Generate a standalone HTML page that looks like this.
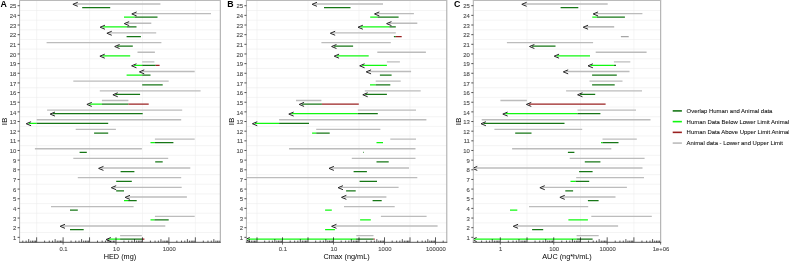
<!DOCTYPE html>
<html><head><meta charset="utf-8"><style>
html,body{margin:0;padding:0;background:#fff;}
body{width:789px;height:261px;overflow:hidden;}
svg{display:block;font-family:"Liberation Sans", sans-serif;will-change:transform;}
</style></head><body>
<svg width="789" height="261" viewBox="0 0 789 261">
<rect width="789" height="261" fill="#fff"/>
<clipPath id="clipA"><rect x="19.6" y="0.0" width="200.70000000000002" height="242.3"/></clipPath>
<line x1="19.6" x2="220.3" y1="232.52" y2="232.52" stroke="#ececec" stroke-width="0.6"/>
<line x1="19.6" x2="220.3" y1="222.87" y2="222.87" stroke="#ececec" stroke-width="0.6"/>
<line x1="19.6" x2="220.3" y1="213.22" y2="213.22" stroke="#ececec" stroke-width="0.6"/>
<line x1="19.6" x2="220.3" y1="203.57" y2="203.57" stroke="#ececec" stroke-width="0.6"/>
<line x1="19.6" x2="220.3" y1="193.92" y2="193.92" stroke="#ececec" stroke-width="0.6"/>
<line x1="19.6" x2="220.3" y1="184.26" y2="184.26" stroke="#ececec" stroke-width="0.6"/>
<line x1="19.6" x2="220.3" y1="174.61" y2="174.61" stroke="#ececec" stroke-width="0.6"/>
<line x1="19.6" x2="220.3" y1="164.96" y2="164.96" stroke="#ececec" stroke-width="0.6"/>
<line x1="19.6" x2="220.3" y1="155.31" y2="155.31" stroke="#ececec" stroke-width="0.6"/>
<line x1="19.6" x2="220.3" y1="145.66" y2="145.66" stroke="#ececec" stroke-width="0.6"/>
<line x1="19.6" x2="220.3" y1="136.00" y2="136.00" stroke="#ececec" stroke-width="0.6"/>
<line x1="19.6" x2="220.3" y1="126.35" y2="126.35" stroke="#ececec" stroke-width="0.6"/>
<line x1="19.6" x2="220.3" y1="116.70" y2="116.70" stroke="#ececec" stroke-width="0.6"/>
<line x1="19.6" x2="220.3" y1="107.05" y2="107.05" stroke="#ececec" stroke-width="0.6"/>
<line x1="19.6" x2="220.3" y1="97.40" y2="97.40" stroke="#ececec" stroke-width="0.6"/>
<line x1="19.6" x2="220.3" y1="87.74" y2="87.74" stroke="#ececec" stroke-width="0.6"/>
<line x1="19.6" x2="220.3" y1="78.09" y2="78.09" stroke="#ececec" stroke-width="0.6"/>
<line x1="19.6" x2="220.3" y1="68.44" y2="68.44" stroke="#ececec" stroke-width="0.6"/>
<line x1="19.6" x2="220.3" y1="58.79" y2="58.79" stroke="#ececec" stroke-width="0.6"/>
<line x1="19.6" x2="220.3" y1="49.14" y2="49.14" stroke="#ececec" stroke-width="0.6"/>
<line x1="19.6" x2="220.3" y1="39.48" y2="39.48" stroke="#ececec" stroke-width="0.6"/>
<line x1="19.6" x2="220.3" y1="29.83" y2="29.83" stroke="#ececec" stroke-width="0.6"/>
<line x1="19.6" x2="220.3" y1="20.18" y2="20.18" stroke="#ececec" stroke-width="0.6"/>
<line x1="19.6" x2="220.3" y1="10.53" y2="10.53" stroke="#ececec" stroke-width="0.6"/>
<line x1="36.65" x2="36.65" y1="0.5" y2="242.3" stroke="#ededed" stroke-width="0.55"/>
<line x1="89.55" x2="89.55" y1="0.5" y2="242.3" stroke="#ededed" stroke-width="0.55"/>
<line x1="142.45" x2="142.45" y1="0.5" y2="242.3" stroke="#ededed" stroke-width="0.55"/>
<line x1="195.35" x2="195.35" y1="0.5" y2="242.3" stroke="#ededed" stroke-width="0.55"/>
<g clip-path="url(#clipA)">
<line x1="75.40" x2="160.4" y1="3.95" y2="3.95" stroke="#bcbcbc" stroke-width="1.35"/>
<line x1="82.20" x2="110.2" y1="7.55" y2="7.55" stroke="#167616" stroke-width="1.25"/>
<line x1="134.30" x2="211.0" y1="13.60" y2="13.60" stroke="#bcbcbc" stroke-width="1.35"/>
<line x1="124.00" x2="134.6" y1="17.20" y2="17.20" stroke="#10f810" stroke-width="1.25"/>
<line x1="134.60" x2="157.5" y1="17.20" y2="17.20" stroke="#167616" stroke-width="1.25"/>
<line x1="126.80" x2="151.3" y1="23.26" y2="23.26" stroke="#bcbcbc" stroke-width="1.35"/>
<line x1="102.60" x2="126.8" y1="26.86" y2="26.86" stroke="#10f810" stroke-width="1.25"/>
<line x1="126.80" x2="136.5" y1="26.86" y2="26.86" stroke="#167616" stroke-width="1.25"/>
<line x1="109.40" x2="156.2" y1="32.91" y2="32.91" stroke="#bcbcbc" stroke-width="1.35"/>
<line x1="126.60" x2="140.9" y1="36.51" y2="36.51" stroke="#167616" stroke-width="1.25"/>
<line x1="46.60" x2="161.4" y1="42.56" y2="42.56" stroke="#bcbcbc" stroke-width="1.35"/>
<line x1="117.20" x2="132.8" y1="46.16" y2="46.16" stroke="#167616" stroke-width="1.25"/>
<line x1="137.50" x2="154.9" y1="52.21" y2="52.21" stroke="#bcbcbc" stroke-width="1.35"/>
<line x1="102.40" x2="130.2" y1="55.81" y2="55.81" stroke="#10f810" stroke-width="1.25"/>
<line x1="142.20" x2="154.4" y1="61.86" y2="61.86" stroke="#bcbcbc" stroke-width="1.35"/>
<line x1="134.10" x2="142.2" y1="65.46" y2="65.46" stroke="#10f810" stroke-width="1.25"/>
<line x1="142.20" x2="155.7" y1="65.46" y2="65.46" stroke="#167616" stroke-width="1.25"/>
<line x1="155.70" x2="159.6" y1="65.46" y2="65.46" stroke="#9a2020" stroke-width="1.25"/>
<line x1="141.90" x2="194.7" y1="71.52" y2="71.52" stroke="#bcbcbc" stroke-width="1.35"/>
<line x1="126.60" x2="142.2" y1="75.12" y2="75.12" stroke="#10f810" stroke-width="1.25"/>
<line x1="142.20" x2="150.5" y1="75.12" y2="75.12" stroke="#167616" stroke-width="1.25"/>
<line x1="73.30" x2="168.7" y1="81.17" y2="81.17" stroke="#bcbcbc" stroke-width="1.35"/>
<line x1="142.20" x2="162.7" y1="84.77" y2="84.77" stroke="#167616" stroke-width="1.25"/>
<line x1="99.80" x2="200.6" y1="90.82" y2="90.82" stroke="#bcbcbc" stroke-width="1.35"/>
<line x1="115.40" x2="140.1" y1="94.42" y2="94.42" stroke="#167616" stroke-width="1.25"/>
<line x1="101.90" x2="128.4" y1="100.47" y2="100.47" stroke="#bcbcbc" stroke-width="1.35"/>
<line x1="89.40" x2="101.9" y1="104.07" y2="104.07" stroke="#10f810" stroke-width="1.25"/>
<line x1="101.90" x2="128.4" y1="104.07" y2="104.07" stroke="#167616" stroke-width="1.25"/>
<line x1="128.40" x2="148.7" y1="104.07" y2="104.07" stroke="#9a2020" stroke-width="1.25"/>
<line x1="47.10" x2="182.2" y1="110.12" y2="110.12" stroke="#bcbcbc" stroke-width="1.35"/>
<line x1="52.60" x2="142.7" y1="113.72" y2="113.72" stroke="#167616" stroke-width="1.25"/>
<line x1="36.70" x2="181.2" y1="119.78" y2="119.78" stroke="#bcbcbc" stroke-width="1.35"/>
<line x1="28.70" x2="36.7" y1="123.38" y2="123.38" stroke="#10f810" stroke-width="1.25"/>
<line x1="36.70" x2="108.2" y1="123.38" y2="123.38" stroke="#167616" stroke-width="1.25"/>
<line x1="75.70" x2="115.9" y1="129.43" y2="129.43" stroke="#bcbcbc" stroke-width="1.35"/>
<line x1="94.10" x2="108.2" y1="133.03" y2="133.03" stroke="#167616" stroke-width="1.25"/>
<line x1="154.90" x2="194.7" y1="139.08" y2="139.08" stroke="#bcbcbc" stroke-width="1.35"/>
<line x1="150.50" x2="154.9" y1="142.68" y2="142.68" stroke="#10f810" stroke-width="1.25"/>
<line x1="154.90" x2="173.4" y1="142.68" y2="142.68" stroke="#167616" stroke-width="1.25"/>
<line x1="34.90" x2="141.9" y1="148.73" y2="148.73" stroke="#bcbcbc" stroke-width="1.35"/>
<line x1="79.60" x2="86.8" y1="152.33" y2="152.33" stroke="#167616" stroke-width="1.25"/>
<line x1="73.30" x2="168.2" y1="158.38" y2="158.38" stroke="#bcbcbc" stroke-width="1.35"/>
<line x1="155.20" x2="162.7" y1="161.98" y2="161.98" stroke="#167616" stroke-width="1.25"/>
<line x1="101.10" x2="190.3" y1="168.04" y2="168.04" stroke="#bcbcbc" stroke-width="1.35"/>
<line x1="120.60" x2="134.4" y1="171.64" y2="171.64" stroke="#167616" stroke-width="1.25"/>
<line x1="77.80" x2="181.2" y1="177.69" y2="177.69" stroke="#bcbcbc" stroke-width="1.35"/>
<line x1="116.20" x2="131.8" y1="181.29" y2="181.29" stroke="#167616" stroke-width="1.25"/>
<line x1="113.80" x2="181.7" y1="187.34" y2="187.34" stroke="#bcbcbc" stroke-width="1.35"/>
<line x1="116.20" x2="124.0" y1="190.94" y2="190.94" stroke="#167616" stroke-width="1.25"/>
<line x1="127.60" x2="186.9" y1="196.99" y2="196.99" stroke="#bcbcbc" stroke-width="1.35"/>
<line x1="124.00" x2="128.1" y1="200.59" y2="200.59" stroke="#10f810" stroke-width="1.25"/>
<line x1="128.10" x2="136.7" y1="200.59" y2="200.59" stroke="#167616" stroke-width="1.25"/>
<line x1="51.00" x2="133.6" y1="206.64" y2="206.64" stroke="#bcbcbc" stroke-width="1.35"/>
<line x1="70.00" x2="77.8" y1="210.24" y2="210.24" stroke="#167616" stroke-width="1.25"/>
<line x1="154.90" x2="194.7" y1="216.30" y2="216.30" stroke="#bcbcbc" stroke-width="1.35"/>
<line x1="150.50" x2="154.4" y1="219.90" y2="219.90" stroke="#10f810" stroke-width="1.25"/>
<line x1="154.40" x2="168.7" y1="219.90" y2="219.90" stroke="#167616" stroke-width="1.25"/>
<line x1="62.60" x2="165.3" y1="225.95" y2="225.95" stroke="#bcbcbc" stroke-width="1.35"/>
<line x1="70.00" x2="83.7" y1="229.55" y2="229.55" stroke="#167616" stroke-width="1.25"/>
<line x1="120.10" x2="141.8" y1="235.60" y2="235.60" stroke="#bcbcbc" stroke-width="1.35"/>
<line x1="108.50" x2="120.1" y1="239.20" y2="239.20" stroke="#10f810" stroke-width="1.25"/>
<line x1="120.10" x2="142.1" y1="239.20" y2="239.20" stroke="#167616" stroke-width="1.25"/>
<line x1="142.10" x2="144.4" y1="239.20" y2="239.20" stroke="#9a2020" stroke-width="1.25"/>
<polyline points="77.40,2.45 72.90,4.30 77.40,6.15" fill="none" stroke="#262626" stroke-width="1.0" stroke-linejoin="round" stroke-linecap="round"/>
<polyline points="136.30,12.10 131.80,13.95 136.30,15.80" fill="none" stroke="#262626" stroke-width="1.0" stroke-linejoin="round" stroke-linecap="round"/>
<polyline points="128.80,21.76 124.30,23.61 128.80,25.46" fill="none" stroke="#262626" stroke-width="1.0" stroke-linejoin="round" stroke-linecap="round"/>
<polyline points="104.60,25.36 100.10,27.21 104.60,29.06" fill="none" stroke="#262626" stroke-width="1.0" stroke-linejoin="round" stroke-linecap="round"/>
<polyline points="111.40,31.41 106.90,33.26 111.40,35.11" fill="none" stroke="#262626" stroke-width="1.0" stroke-linejoin="round" stroke-linecap="round"/>
<polyline points="119.20,44.66 114.70,46.51 119.20,48.36" fill="none" stroke="#262626" stroke-width="1.0" stroke-linejoin="round" stroke-linecap="round"/>
<polyline points="104.40,54.31 99.90,56.16 104.40,58.01" fill="none" stroke="#262626" stroke-width="1.0" stroke-linejoin="round" stroke-linecap="round"/>
<polyline points="136.10,63.96 131.60,65.81 136.10,67.66" fill="none" stroke="#262626" stroke-width="1.0" stroke-linejoin="round" stroke-linecap="round"/>
<polyline points="143.90,70.02 139.40,71.87 143.90,73.72" fill="none" stroke="#262626" stroke-width="1.0" stroke-linejoin="round" stroke-linecap="round"/>
<polyline points="117.40,92.92 112.90,94.77 117.40,96.62" fill="none" stroke="#262626" stroke-width="1.0" stroke-linejoin="round" stroke-linecap="round"/>
<polyline points="91.40,102.57 86.90,104.42 91.40,106.27" fill="none" stroke="#262626" stroke-width="1.0" stroke-linejoin="round" stroke-linecap="round"/>
<polyline points="54.60,112.22 50.10,114.07 54.60,115.92" fill="none" stroke="#262626" stroke-width="1.0" stroke-linejoin="round" stroke-linecap="round"/>
<polyline points="30.70,121.88 26.20,123.73 30.70,125.58" fill="none" stroke="#262626" stroke-width="1.0" stroke-linejoin="round" stroke-linecap="round"/>
<polyline points="103.10,166.54 98.60,168.39 103.10,170.24" fill="none" stroke="#262626" stroke-width="1.0" stroke-linejoin="round" stroke-linecap="round"/>
<polyline points="115.80,185.84 111.30,187.69 115.80,189.54" fill="none" stroke="#262626" stroke-width="1.0" stroke-linejoin="round" stroke-linecap="round"/>
<polyline points="129.60,195.49 125.10,197.34 129.60,199.19" fill="none" stroke="#262626" stroke-width="1.0" stroke-linejoin="round" stroke-linecap="round"/>
<polyline points="64.60,224.45 60.10,226.30 64.60,228.15" fill="none" stroke="#262626" stroke-width="1.0" stroke-linejoin="round" stroke-linecap="round"/>
<polyline points="110.50,237.70 106.00,239.55 110.50,241.40" fill="none" stroke="#262626" stroke-width="1.0" stroke-linejoin="round" stroke-linecap="round"/>
</g>
<line x1="22.82" x2="22.82" y1="240.60" y2="242.3" stroke="#000" stroke-width="0.65"/>
<line x1="26.12" x2="26.12" y1="240.60" y2="242.3" stroke="#000" stroke-width="0.65"/>
<line x1="28.69" x2="28.69" y1="239.10" y2="242.3" stroke="#000" stroke-width="0.65"/>
<line x1="30.78" x2="30.78" y1="240.60" y2="242.3" stroke="#000" stroke-width="0.65"/>
<line x1="32.55" x2="32.55" y1="240.60" y2="242.3" stroke="#000" stroke-width="0.65"/>
<line x1="34.09" x2="34.09" y1="240.60" y2="242.3" stroke="#000" stroke-width="0.65"/>
<line x1="35.44" x2="35.44" y1="240.60" y2="242.3" stroke="#000" stroke-width="0.65"/>
<line x1="36.65" x2="36.65" y1="237.30" y2="242.3" stroke="#000" stroke-width="0.65"/>
<line x1="44.61" x2="44.61" y1="240.60" y2="242.3" stroke="#000" stroke-width="0.65"/>
<line x1="49.27" x2="49.27" y1="240.60" y2="242.3" stroke="#000" stroke-width="0.65"/>
<line x1="52.57" x2="52.57" y1="240.60" y2="242.3" stroke="#000" stroke-width="0.65"/>
<line x1="55.14" x2="55.14" y1="239.10" y2="242.3" stroke="#000" stroke-width="0.65"/>
<line x1="57.23" x2="57.23" y1="240.60" y2="242.3" stroke="#000" stroke-width="0.65"/>
<line x1="59.00" x2="59.00" y1="240.60" y2="242.3" stroke="#000" stroke-width="0.65"/>
<line x1="60.54" x2="60.54" y1="240.60" y2="242.3" stroke="#000" stroke-width="0.65"/>
<line x1="61.89" x2="61.89" y1="240.60" y2="242.3" stroke="#000" stroke-width="0.65"/>
<line x1="63.10" x2="63.10" y1="237.30" y2="242.3" stroke="#000" stroke-width="0.65"/>
<line x1="71.06" x2="71.06" y1="240.60" y2="242.3" stroke="#000" stroke-width="0.65"/>
<line x1="75.72" x2="75.72" y1="240.60" y2="242.3" stroke="#000" stroke-width="0.65"/>
<line x1="79.02" x2="79.02" y1="240.60" y2="242.3" stroke="#000" stroke-width="0.65"/>
<line x1="81.59" x2="81.59" y1="239.10" y2="242.3" stroke="#000" stroke-width="0.65"/>
<line x1="83.68" x2="83.68" y1="240.60" y2="242.3" stroke="#000" stroke-width="0.65"/>
<line x1="85.45" x2="85.45" y1="240.60" y2="242.3" stroke="#000" stroke-width="0.65"/>
<line x1="86.99" x2="86.99" y1="240.60" y2="242.3" stroke="#000" stroke-width="0.65"/>
<line x1="88.34" x2="88.34" y1="240.60" y2="242.3" stroke="#000" stroke-width="0.65"/>
<line x1="89.55" x2="89.55" y1="237.30" y2="242.3" stroke="#000" stroke-width="0.65"/>
<line x1="97.51" x2="97.51" y1="240.60" y2="242.3" stroke="#000" stroke-width="0.65"/>
<line x1="102.17" x2="102.17" y1="240.60" y2="242.3" stroke="#000" stroke-width="0.65"/>
<line x1="105.47" x2="105.47" y1="240.60" y2="242.3" stroke="#000" stroke-width="0.65"/>
<line x1="108.04" x2="108.04" y1="239.10" y2="242.3" stroke="#000" stroke-width="0.65"/>
<line x1="110.13" x2="110.13" y1="240.60" y2="242.3" stroke="#000" stroke-width="0.65"/>
<line x1="111.90" x2="111.90" y1="240.60" y2="242.3" stroke="#000" stroke-width="0.65"/>
<line x1="113.44" x2="113.44" y1="240.60" y2="242.3" stroke="#000" stroke-width="0.65"/>
<line x1="114.79" x2="114.79" y1="240.60" y2="242.3" stroke="#000" stroke-width="0.65"/>
<line x1="116.00" x2="116.00" y1="237.30" y2="242.3" stroke="#000" stroke-width="0.65"/>
<line x1="123.96" x2="123.96" y1="240.60" y2="242.3" stroke="#000" stroke-width="0.65"/>
<line x1="128.62" x2="128.62" y1="240.60" y2="242.3" stroke="#000" stroke-width="0.65"/>
<line x1="131.92" x2="131.92" y1="240.60" y2="242.3" stroke="#000" stroke-width="0.65"/>
<line x1="134.49" x2="134.49" y1="239.10" y2="242.3" stroke="#000" stroke-width="0.65"/>
<line x1="136.58" x2="136.58" y1="240.60" y2="242.3" stroke="#000" stroke-width="0.65"/>
<line x1="138.35" x2="138.35" y1="240.60" y2="242.3" stroke="#000" stroke-width="0.65"/>
<line x1="139.89" x2="139.89" y1="240.60" y2="242.3" stroke="#000" stroke-width="0.65"/>
<line x1="141.24" x2="141.24" y1="240.60" y2="242.3" stroke="#000" stroke-width="0.65"/>
<line x1="142.45" x2="142.45" y1="237.30" y2="242.3" stroke="#000" stroke-width="0.65"/>
<line x1="150.41" x2="150.41" y1="240.60" y2="242.3" stroke="#000" stroke-width="0.65"/>
<line x1="155.07" x2="155.07" y1="240.60" y2="242.3" stroke="#000" stroke-width="0.65"/>
<line x1="158.37" x2="158.37" y1="240.60" y2="242.3" stroke="#000" stroke-width="0.65"/>
<line x1="160.94" x2="160.94" y1="239.10" y2="242.3" stroke="#000" stroke-width="0.65"/>
<line x1="163.03" x2="163.03" y1="240.60" y2="242.3" stroke="#000" stroke-width="0.65"/>
<line x1="164.80" x2="164.80" y1="240.60" y2="242.3" stroke="#000" stroke-width="0.65"/>
<line x1="166.34" x2="166.34" y1="240.60" y2="242.3" stroke="#000" stroke-width="0.65"/>
<line x1="167.69" x2="167.69" y1="240.60" y2="242.3" stroke="#000" stroke-width="0.65"/>
<line x1="168.90" x2="168.90" y1="237.30" y2="242.3" stroke="#000" stroke-width="0.65"/>
<line x1="176.86" x2="176.86" y1="240.60" y2="242.3" stroke="#000" stroke-width="0.65"/>
<line x1="181.52" x2="181.52" y1="240.60" y2="242.3" stroke="#000" stroke-width="0.65"/>
<line x1="184.82" x2="184.82" y1="240.60" y2="242.3" stroke="#000" stroke-width="0.65"/>
<line x1="187.39" x2="187.39" y1="239.10" y2="242.3" stroke="#000" stroke-width="0.65"/>
<line x1="189.48" x2="189.48" y1="240.60" y2="242.3" stroke="#000" stroke-width="0.65"/>
<line x1="191.25" x2="191.25" y1="240.60" y2="242.3" stroke="#000" stroke-width="0.65"/>
<line x1="192.79" x2="192.79" y1="240.60" y2="242.3" stroke="#000" stroke-width="0.65"/>
<line x1="194.14" x2="194.14" y1="240.60" y2="242.3" stroke="#000" stroke-width="0.65"/>
<line x1="195.35" x2="195.35" y1="237.30" y2="242.3" stroke="#000" stroke-width="0.65"/>
<line x1="203.31" x2="203.31" y1="240.60" y2="242.3" stroke="#000" stroke-width="0.65"/>
<line x1="207.97" x2="207.97" y1="240.60" y2="242.3" stroke="#000" stroke-width="0.65"/>
<line x1="211.27" x2="211.27" y1="240.60" y2="242.3" stroke="#000" stroke-width="0.65"/>
<line x1="213.84" x2="213.84" y1="239.10" y2="242.3" stroke="#000" stroke-width="0.65"/>
<line x1="215.93" x2="215.93" y1="240.60" y2="242.3" stroke="#000" stroke-width="0.65"/>
<line x1="217.70" x2="217.70" y1="240.60" y2="242.3" stroke="#000" stroke-width="0.65"/>
<line x1="219.24" x2="219.24" y1="240.60" y2="242.3" stroke="#000" stroke-width="0.65"/>
<line x1="19.6" x2="19.6" y1="0.5" y2="242.3" stroke="#b0b0b0" stroke-width="1"/>
<line x1="220.3" x2="220.3" y1="0.5" y2="242.3" stroke="#a6a6a6" stroke-width="1"/>
<line x1="19.1" x2="220.8" y1="0.5" y2="0.5" stroke="#bababa" stroke-width="1"/>
<line x1="19.1" x2="220.8" y1="242.3" y2="242.3" stroke="#262626" stroke-width="0.8"/>
<line x1="17.60" x2="19.6" y1="237.35" y2="237.35" stroke="#333" stroke-width="0.85"/>
<text x="16.20" y="240.00" text-anchor="end" font-size="5.9" fill="#4a4a4a" stroke="#4a4a4a" stroke-width="0.1">1</text>
<line x1="17.60" x2="19.6" y1="227.70" y2="227.70" stroke="#333" stroke-width="0.85"/>
<text x="16.20" y="230.35" text-anchor="end" font-size="5.9" fill="#4a4a4a" stroke="#4a4a4a" stroke-width="0.1">2</text>
<line x1="17.60" x2="19.6" y1="218.05" y2="218.05" stroke="#333" stroke-width="0.85"/>
<text x="16.20" y="220.70" text-anchor="end" font-size="5.9" fill="#4a4a4a" stroke="#4a4a4a" stroke-width="0.1">3</text>
<line x1="17.60" x2="19.6" y1="208.39" y2="208.39" stroke="#333" stroke-width="0.85"/>
<text x="16.20" y="211.04" text-anchor="end" font-size="5.9" fill="#4a4a4a" stroke="#4a4a4a" stroke-width="0.1">4</text>
<line x1="17.60" x2="19.6" y1="198.74" y2="198.74" stroke="#333" stroke-width="0.85"/>
<text x="16.20" y="201.39" text-anchor="end" font-size="5.9" fill="#4a4a4a" stroke="#4a4a4a" stroke-width="0.1">5</text>
<line x1="17.60" x2="19.6" y1="189.09" y2="189.09" stroke="#333" stroke-width="0.85"/>
<text x="16.20" y="191.74" text-anchor="end" font-size="5.9" fill="#4a4a4a" stroke="#4a4a4a" stroke-width="0.1">6</text>
<line x1="17.60" x2="19.6" y1="179.44" y2="179.44" stroke="#333" stroke-width="0.85"/>
<text x="16.20" y="182.09" text-anchor="end" font-size="5.9" fill="#4a4a4a" stroke="#4a4a4a" stroke-width="0.1">7</text>
<line x1="17.60" x2="19.6" y1="169.79" y2="169.79" stroke="#333" stroke-width="0.85"/>
<text x="16.20" y="172.44" text-anchor="end" font-size="5.9" fill="#4a4a4a" stroke="#4a4a4a" stroke-width="0.1">8</text>
<line x1="17.60" x2="19.6" y1="160.13" y2="160.13" stroke="#333" stroke-width="0.85"/>
<text x="16.20" y="162.78" text-anchor="end" font-size="5.9" fill="#4a4a4a" stroke="#4a4a4a" stroke-width="0.1">9</text>
<line x1="17.60" x2="19.6" y1="150.48" y2="150.48" stroke="#333" stroke-width="0.85"/>
<text x="16.20" y="153.13" text-anchor="end" font-size="5.9" fill="#4a4a4a" stroke="#4a4a4a" stroke-width="0.1">10</text>
<line x1="17.60" x2="19.6" y1="140.83" y2="140.83" stroke="#333" stroke-width="0.85"/>
<text x="16.20" y="143.48" text-anchor="end" font-size="5.9" fill="#4a4a4a" stroke="#4a4a4a" stroke-width="0.1">11</text>
<line x1="17.60" x2="19.6" y1="131.18" y2="131.18" stroke="#333" stroke-width="0.85"/>
<text x="16.20" y="133.83" text-anchor="end" font-size="5.9" fill="#4a4a4a" stroke="#4a4a4a" stroke-width="0.1">12</text>
<line x1="17.60" x2="19.6" y1="121.53" y2="121.53" stroke="#333" stroke-width="0.85"/>
<text x="16.20" y="124.18" text-anchor="end" font-size="5.9" fill="#4a4a4a" stroke="#4a4a4a" stroke-width="0.1">13</text>
<line x1="17.60" x2="19.6" y1="111.87" y2="111.87" stroke="#333" stroke-width="0.85"/>
<text x="16.20" y="114.52" text-anchor="end" font-size="5.9" fill="#4a4a4a" stroke="#4a4a4a" stroke-width="0.1">14</text>
<line x1="17.60" x2="19.6" y1="102.22" y2="102.22" stroke="#333" stroke-width="0.85"/>
<text x="16.20" y="104.87" text-anchor="end" font-size="5.9" fill="#4a4a4a" stroke="#4a4a4a" stroke-width="0.1">15</text>
<line x1="17.60" x2="19.6" y1="92.57" y2="92.57" stroke="#333" stroke-width="0.85"/>
<text x="16.20" y="95.22" text-anchor="end" font-size="5.9" fill="#4a4a4a" stroke="#4a4a4a" stroke-width="0.1">16</text>
<line x1="17.60" x2="19.6" y1="82.92" y2="82.92" stroke="#333" stroke-width="0.85"/>
<text x="16.20" y="85.57" text-anchor="end" font-size="5.9" fill="#4a4a4a" stroke="#4a4a4a" stroke-width="0.1">17</text>
<line x1="17.60" x2="19.6" y1="73.27" y2="73.27" stroke="#333" stroke-width="0.85"/>
<text x="16.20" y="75.92" text-anchor="end" font-size="5.9" fill="#4a4a4a" stroke="#4a4a4a" stroke-width="0.1">18</text>
<line x1="17.60" x2="19.6" y1="63.61" y2="63.61" stroke="#333" stroke-width="0.85"/>
<text x="16.20" y="66.26" text-anchor="end" font-size="5.9" fill="#4a4a4a" stroke="#4a4a4a" stroke-width="0.1">19</text>
<line x1="17.60" x2="19.6" y1="53.96" y2="53.96" stroke="#333" stroke-width="0.85"/>
<text x="16.20" y="56.61" text-anchor="end" font-size="5.9" fill="#4a4a4a" stroke="#4a4a4a" stroke-width="0.1">20</text>
<line x1="17.60" x2="19.6" y1="44.31" y2="44.31" stroke="#333" stroke-width="0.85"/>
<text x="16.20" y="46.96" text-anchor="end" font-size="5.9" fill="#4a4a4a" stroke="#4a4a4a" stroke-width="0.1">21</text>
<line x1="17.60" x2="19.6" y1="34.66" y2="34.66" stroke="#333" stroke-width="0.85"/>
<text x="16.20" y="37.31" text-anchor="end" font-size="5.9" fill="#4a4a4a" stroke="#4a4a4a" stroke-width="0.1">22</text>
<line x1="17.60" x2="19.6" y1="25.01" y2="25.01" stroke="#333" stroke-width="0.85"/>
<text x="16.20" y="27.66" text-anchor="end" font-size="5.9" fill="#4a4a4a" stroke="#4a4a4a" stroke-width="0.1">23</text>
<line x1="17.60" x2="19.6" y1="15.35" y2="15.35" stroke="#333" stroke-width="0.85"/>
<text x="16.20" y="18.00" text-anchor="end" font-size="5.9" fill="#4a4a4a" stroke="#4a4a4a" stroke-width="0.1">24</text>
<line x1="17.60" x2="19.6" y1="5.70" y2="5.70" stroke="#333" stroke-width="0.85"/>
<text x="16.20" y="8.35" text-anchor="end" font-size="5.9" fill="#4a4a4a" stroke="#4a4a4a" stroke-width="0.1">25</text>
<line x1="63.10" x2="63.10" y1="242.3" y2="244.60000000000002" stroke="#333" stroke-width="0.7"/>
<text x="63.50" y="250.6" text-anchor="middle" font-size="5.9" fill="#4a4a4a" stroke="#4a4a4a" stroke-width="0.1">0.1</text>
<line x1="116.00" x2="116.00" y1="242.3" y2="244.60000000000002" stroke="#333" stroke-width="0.7"/>
<text x="116.40" y="250.6" text-anchor="middle" font-size="5.9" fill="#4a4a4a" stroke="#4a4a4a" stroke-width="0.1">10</text>
<line x1="168.90" x2="168.90" y1="242.3" y2="244.60000000000002" stroke="#333" stroke-width="0.7"/>
<text x="169.30" y="250.6" text-anchor="middle" font-size="5.9" fill="#4a4a4a" stroke="#4a4a4a" stroke-width="0.1">1000</text>
<text x="119.95" y="259.2" text-anchor="middle" font-size="7.3" fill="#000">HED (mg)</text>
<text x="7.20" y="121.30" transform="rotate(-90 7.20 121.30)" text-anchor="middle" font-size="8.1" fill="#000">IB</text>
<text x="0.4" y="6.75" font-size="8.8" font-weight="bold" fill="#000">A</text>
<clipPath id="clipB"><rect x="246.4" y="0.0" width="200.4" height="242.3"/></clipPath>
<line x1="246.4" x2="446.8" y1="232.52" y2="232.52" stroke="#ececec" stroke-width="0.6"/>
<line x1="246.4" x2="446.8" y1="222.87" y2="222.87" stroke="#ececec" stroke-width="0.6"/>
<line x1="246.4" x2="446.8" y1="213.22" y2="213.22" stroke="#ececec" stroke-width="0.6"/>
<line x1="246.4" x2="446.8" y1="203.57" y2="203.57" stroke="#ececec" stroke-width="0.6"/>
<line x1="246.4" x2="446.8" y1="193.92" y2="193.92" stroke="#ececec" stroke-width="0.6"/>
<line x1="246.4" x2="446.8" y1="184.26" y2="184.26" stroke="#ececec" stroke-width="0.6"/>
<line x1="246.4" x2="446.8" y1="174.61" y2="174.61" stroke="#ececec" stroke-width="0.6"/>
<line x1="246.4" x2="446.8" y1="164.96" y2="164.96" stroke="#ececec" stroke-width="0.6"/>
<line x1="246.4" x2="446.8" y1="155.31" y2="155.31" stroke="#ececec" stroke-width="0.6"/>
<line x1="246.4" x2="446.8" y1="145.66" y2="145.66" stroke="#ececec" stroke-width="0.6"/>
<line x1="246.4" x2="446.8" y1="136.00" y2="136.00" stroke="#ececec" stroke-width="0.6"/>
<line x1="246.4" x2="446.8" y1="126.35" y2="126.35" stroke="#ececec" stroke-width="0.6"/>
<line x1="246.4" x2="446.8" y1="116.70" y2="116.70" stroke="#ececec" stroke-width="0.6"/>
<line x1="246.4" x2="446.8" y1="107.05" y2="107.05" stroke="#ececec" stroke-width="0.6"/>
<line x1="246.4" x2="446.8" y1="97.40" y2="97.40" stroke="#ececec" stroke-width="0.6"/>
<line x1="246.4" x2="446.8" y1="87.74" y2="87.74" stroke="#ececec" stroke-width="0.6"/>
<line x1="246.4" x2="446.8" y1="78.09" y2="78.09" stroke="#ececec" stroke-width="0.6"/>
<line x1="246.4" x2="446.8" y1="68.44" y2="68.44" stroke="#ececec" stroke-width="0.6"/>
<line x1="246.4" x2="446.8" y1="58.79" y2="58.79" stroke="#ececec" stroke-width="0.6"/>
<line x1="246.4" x2="446.8" y1="49.14" y2="49.14" stroke="#ececec" stroke-width="0.6"/>
<line x1="246.4" x2="446.8" y1="39.48" y2="39.48" stroke="#ececec" stroke-width="0.6"/>
<line x1="246.4" x2="446.8" y1="29.83" y2="29.83" stroke="#ececec" stroke-width="0.6"/>
<line x1="246.4" x2="446.8" y1="20.18" y2="20.18" stroke="#ececec" stroke-width="0.6"/>
<line x1="246.4" x2="446.8" y1="10.53" y2="10.53" stroke="#ececec" stroke-width="0.6"/>
<line x1="257.00" x2="257.00" y1="0.5" y2="242.3" stroke="#ededed" stroke-width="0.55"/>
<line x1="308.00" x2="308.00" y1="0.5" y2="242.3" stroke="#ededed" stroke-width="0.55"/>
<line x1="359.00" x2="359.00" y1="0.5" y2="242.3" stroke="#ededed" stroke-width="0.55"/>
<line x1="410.00" x2="410.00" y1="0.5" y2="242.3" stroke="#ededed" stroke-width="0.55"/>
<g clip-path="url(#clipB)">
<line x1="314.60" x2="383.0" y1="3.95" y2="3.95" stroke="#bcbcbc" stroke-width="1.35"/>
<line x1="324.00" x2="350.5" y1="7.55" y2="7.55" stroke="#167616" stroke-width="1.25"/>
<line x1="377.00" x2="413.9" y1="13.60" y2="13.60" stroke="#bcbcbc" stroke-width="1.35"/>
<line x1="370.20" x2="377.4" y1="17.20" y2="17.20" stroke="#10f810" stroke-width="1.25"/>
<line x1="377.40" x2="398.6" y1="17.20" y2="17.20" stroke="#167616" stroke-width="1.25"/>
<line x1="389.10" x2="417.3" y1="23.26" y2="23.26" stroke="#bcbcbc" stroke-width="1.35"/>
<line x1="360.50" x2="389.4" y1="26.86" y2="26.86" stroke="#10f810" stroke-width="1.25"/>
<line x1="389.40" x2="395.8" y1="26.86" y2="26.86" stroke="#167616" stroke-width="1.25"/>
<line x1="332.80" x2="395.8" y1="32.91" y2="32.91" stroke="#bcbcbc" stroke-width="1.35"/>
<line x1="393.90" x2="395.8" y1="36.51" y2="36.51" stroke="#167616" stroke-width="1.25"/>
<line x1="395.80" x2="401.7" y1="36.51" y2="36.51" stroke="#9a2020" stroke-width="1.25"/>
<line x1="321.40" x2="390.8" y1="42.56" y2="42.56" stroke="#bcbcbc" stroke-width="1.35"/>
<line x1="334.10" x2="353.1" y1="46.16" y2="46.16" stroke="#167616" stroke-width="1.25"/>
<line x1="377.30" x2="425.9" y1="52.21" y2="52.21" stroke="#bcbcbc" stroke-width="1.35"/>
<line x1="336.70" x2="368.7" y1="55.81" y2="55.81" stroke="#10f810" stroke-width="1.25"/>
<line x1="386.90" x2="399.9" y1="61.86" y2="61.86" stroke="#bcbcbc" stroke-width="1.35"/>
<line x1="362.20" x2="386.9" y1="65.46" y2="65.46" stroke="#10f810" stroke-width="1.25"/>
<line x1="368.70" x2="411.1" y1="71.52" y2="71.52" stroke="#bcbcbc" stroke-width="1.35"/>
<line x1="379.90" x2="391.6" y1="75.12" y2="75.12" stroke="#167616" stroke-width="1.25"/>
<line x1="375.70" x2="400.7" y1="81.17" y2="81.17" stroke="#bcbcbc" stroke-width="1.35"/>
<line x1="370.00" x2="375.7" y1="84.77" y2="84.77" stroke="#10f810" stroke-width="1.25"/>
<line x1="375.70" x2="390.3" y1="84.77" y2="84.77" stroke="#167616" stroke-width="1.25"/>
<line x1="364.80" x2="420.7" y1="90.82" y2="90.82" stroke="#bcbcbc" stroke-width="1.35"/>
<line x1="365.30" x2="386.9" y1="94.42" y2="94.42" stroke="#167616" stroke-width="1.25"/>
<line x1="296.00" x2="321.4" y1="100.47" y2="100.47" stroke="#bcbcbc" stroke-width="1.35"/>
<line x1="301.70" x2="321.9" y1="104.07" y2="104.07" stroke="#167616" stroke-width="1.25"/>
<line x1="321.90" x2="358.8" y1="104.07" y2="104.07" stroke="#9a2020" stroke-width="1.25"/>
<line x1="357.80" x2="416.0" y1="110.12" y2="110.12" stroke="#bcbcbc" stroke-width="1.35"/>
<line x1="291.30" x2="357.8" y1="113.72" y2="113.72" stroke="#10f810" stroke-width="1.25"/>
<line x1="357.80" x2="377.8" y1="113.72" y2="113.72" stroke="#167616" stroke-width="1.25"/>
<line x1="279.10" x2="426.4" y1="119.78" y2="119.78" stroke="#bcbcbc" stroke-width="1.35"/>
<line x1="254.90" x2="279.1" y1="123.38" y2="123.38" stroke="#10f810" stroke-width="1.25"/>
<line x1="279.10" x2="309.0" y1="123.38" y2="123.38" stroke="#167616" stroke-width="1.25"/>
<line x1="316.20" x2="380.4" y1="129.43" y2="129.43" stroke="#bcbcbc" stroke-width="1.35"/>
<line x1="312.10" x2="316.2" y1="133.03" y2="133.03" stroke="#10f810" stroke-width="1.25"/>
<line x1="316.20" x2="329.7" y1="133.03" y2="133.03" stroke="#167616" stroke-width="1.25"/>
<line x1="390.30" x2="416.0" y1="139.08" y2="139.08" stroke="#bcbcbc" stroke-width="1.35"/>
<line x1="376.50" x2="383.0" y1="142.68" y2="142.68" stroke="#10f810" stroke-width="1.25"/>
<line x1="289.00" x2="415.5" y1="148.73" y2="148.73" stroke="#bcbcbc" stroke-width="1.35"/>
<line x1="363.20" x2="363.8" y1="152.33" y2="152.33" stroke="#167616" stroke-width="1.25"/>
<line x1="351.80" x2="415.5" y1="158.38" y2="158.38" stroke="#bcbcbc" stroke-width="1.35"/>
<line x1="376.50" x2="388.7" y1="161.98" y2="161.98" stroke="#167616" stroke-width="1.25"/>
<line x1="331.50" x2="409.0" y1="168.04" y2="168.04" stroke="#bcbcbc" stroke-width="1.35"/>
<line x1="353.60" x2="366.9" y1="171.64" y2="171.64" stroke="#167616" stroke-width="1.25"/>
<line x1="240.00" x2="417.3" y1="177.69" y2="177.69" stroke="#bcbcbc" stroke-width="1.35"/>
<line x1="359.60" x2="377.0" y1="181.29" y2="181.29" stroke="#167616" stroke-width="1.25"/>
<line x1="340.60" x2="398.6" y1="187.34" y2="187.34" stroke="#bcbcbc" stroke-width="1.35"/>
<line x1="346.10" x2="355.7" y1="190.94" y2="190.94" stroke="#167616" stroke-width="1.25"/>
<line x1="344.00" x2="386.4" y1="196.99" y2="196.99" stroke="#bcbcbc" stroke-width="1.35"/>
<line x1="372.60" x2="381.7" y1="200.59" y2="200.59" stroke="#167616" stroke-width="1.25"/>
<line x1="344.00" x2="394.7" y1="206.64" y2="206.64" stroke="#bcbcbc" stroke-width="1.35"/>
<line x1="325.10" x2="331.8" y1="210.24" y2="210.24" stroke="#10f810" stroke-width="1.25"/>
<line x1="380.90" x2="426.6" y1="216.30" y2="216.30" stroke="#bcbcbc" stroke-width="1.35"/>
<line x1="360.10" x2="370.8" y1="219.90" y2="219.90" stroke="#10f810" stroke-width="1.25"/>
<line x1="334.10" x2="437.6" y1="225.95" y2="225.95" stroke="#bcbcbc" stroke-width="1.35"/>
<line x1="325.10" x2="334.9" y1="229.55" y2="229.55" stroke="#10f810" stroke-width="1.25"/>
<line x1="356.30" x2="373.5" y1="235.60" y2="235.60" stroke="#bcbcbc" stroke-width="1.35"/>
<line x1="247.40" x2="356.0" y1="239.20" y2="239.20" stroke="#10f810" stroke-width="1.25"/>
<line x1="356.00" x2="373.5" y1="239.20" y2="239.20" stroke="#167616" stroke-width="1.25"/>
<line x1="373.50" x2="374.7" y1="239.20" y2="239.20" stroke="#9a2020" stroke-width="1.25"/>
<polyline points="316.60,2.45 312.10,4.30 316.60,6.15" fill="none" stroke="#262626" stroke-width="1.0" stroke-linejoin="round" stroke-linecap="round"/>
<polyline points="379.00,12.10 374.50,13.95 379.00,15.80" fill="none" stroke="#262626" stroke-width="1.0" stroke-linejoin="round" stroke-linecap="round"/>
<polyline points="391.10,21.76 386.60,23.61 391.10,25.46" fill="none" stroke="#262626" stroke-width="1.0" stroke-linejoin="round" stroke-linecap="round"/>
<polyline points="362.50,25.36 358.00,27.21 362.50,29.06" fill="none" stroke="#262626" stroke-width="1.0" stroke-linejoin="round" stroke-linecap="round"/>
<polyline points="334.80,31.41 330.30,33.26 334.80,35.11" fill="none" stroke="#262626" stroke-width="1.0" stroke-linejoin="round" stroke-linecap="round"/>
<polyline points="336.10,44.66 331.60,46.51 336.10,48.36" fill="none" stroke="#262626" stroke-width="1.0" stroke-linejoin="round" stroke-linecap="round"/>
<polyline points="338.70,54.31 334.20,56.16 338.70,58.01" fill="none" stroke="#262626" stroke-width="1.0" stroke-linejoin="round" stroke-linecap="round"/>
<polyline points="364.20,63.96 359.70,65.81 364.20,67.66" fill="none" stroke="#262626" stroke-width="1.0" stroke-linejoin="round" stroke-linecap="round"/>
<polyline points="370.70,70.02 366.20,71.87 370.70,73.72" fill="none" stroke="#262626" stroke-width="1.0" stroke-linejoin="round" stroke-linecap="round"/>
<polyline points="367.30,92.92 362.80,94.77 367.30,96.62" fill="none" stroke="#262626" stroke-width="1.0" stroke-linejoin="round" stroke-linecap="round"/>
<polyline points="303.70,102.57 299.20,104.42 303.70,106.27" fill="none" stroke="#262626" stroke-width="1.0" stroke-linejoin="round" stroke-linecap="round"/>
<polyline points="293.30,112.22 288.80,114.07 293.30,115.92" fill="none" stroke="#262626" stroke-width="1.0" stroke-linejoin="round" stroke-linecap="round"/>
<polyline points="256.90,121.88 252.40,123.73 256.90,125.58" fill="none" stroke="#262626" stroke-width="1.0" stroke-linejoin="round" stroke-linecap="round"/>
<polyline points="333.50,166.54 329.00,168.39 333.50,170.24" fill="none" stroke="#262626" stroke-width="1.0" stroke-linejoin="round" stroke-linecap="round"/>
<polyline points="342.60,185.84 338.10,187.69 342.60,189.54" fill="none" stroke="#262626" stroke-width="1.0" stroke-linejoin="round" stroke-linecap="round"/>
<polyline points="346.00,195.49 341.50,197.34 346.00,199.19" fill="none" stroke="#262626" stroke-width="1.0" stroke-linejoin="round" stroke-linecap="round"/>
<polyline points="336.10,224.45 331.60,226.30 336.10,228.15" fill="none" stroke="#262626" stroke-width="1.0" stroke-linejoin="round" stroke-linecap="round"/>
<polyline points="249.40,237.70 244.90,239.55 249.40,241.40" fill="none" stroke="#262626" stroke-width="1.0" stroke-linejoin="round" stroke-linecap="round"/>
</g>
<line x1="246.85" x2="246.85" y1="240.60" y2="242.3" stroke="#000" stroke-width="0.65"/>
<line x1="249.32" x2="249.32" y1="239.10" y2="242.3" stroke="#000" stroke-width="0.65"/>
<line x1="251.34" x2="251.34" y1="240.60" y2="242.3" stroke="#000" stroke-width="0.65"/>
<line x1="253.05" x2="253.05" y1="240.60" y2="242.3" stroke="#000" stroke-width="0.65"/>
<line x1="254.53" x2="254.53" y1="240.60" y2="242.3" stroke="#000" stroke-width="0.65"/>
<line x1="255.83" x2="255.83" y1="240.60" y2="242.3" stroke="#000" stroke-width="0.65"/>
<line x1="257.00" x2="257.00" y1="237.30" y2="242.3" stroke="#000" stroke-width="0.65"/>
<line x1="264.68" x2="264.68" y1="240.60" y2="242.3" stroke="#000" stroke-width="0.65"/>
<line x1="269.17" x2="269.17" y1="240.60" y2="242.3" stroke="#000" stroke-width="0.65"/>
<line x1="272.35" x2="272.35" y1="240.60" y2="242.3" stroke="#000" stroke-width="0.65"/>
<line x1="274.82" x2="274.82" y1="239.10" y2="242.3" stroke="#000" stroke-width="0.65"/>
<line x1="276.84" x2="276.84" y1="240.60" y2="242.3" stroke="#000" stroke-width="0.65"/>
<line x1="278.55" x2="278.55" y1="240.60" y2="242.3" stroke="#000" stroke-width="0.65"/>
<line x1="280.03" x2="280.03" y1="240.60" y2="242.3" stroke="#000" stroke-width="0.65"/>
<line x1="281.33" x2="281.33" y1="240.60" y2="242.3" stroke="#000" stroke-width="0.65"/>
<line x1="282.50" x2="282.50" y1="237.30" y2="242.3" stroke="#000" stroke-width="0.65"/>
<line x1="290.18" x2="290.18" y1="240.60" y2="242.3" stroke="#000" stroke-width="0.65"/>
<line x1="294.67" x2="294.67" y1="240.60" y2="242.3" stroke="#000" stroke-width="0.65"/>
<line x1="297.85" x2="297.85" y1="240.60" y2="242.3" stroke="#000" stroke-width="0.65"/>
<line x1="300.32" x2="300.32" y1="239.10" y2="242.3" stroke="#000" stroke-width="0.65"/>
<line x1="302.34" x2="302.34" y1="240.60" y2="242.3" stroke="#000" stroke-width="0.65"/>
<line x1="304.05" x2="304.05" y1="240.60" y2="242.3" stroke="#000" stroke-width="0.65"/>
<line x1="305.53" x2="305.53" y1="240.60" y2="242.3" stroke="#000" stroke-width="0.65"/>
<line x1="306.83" x2="306.83" y1="240.60" y2="242.3" stroke="#000" stroke-width="0.65"/>
<line x1="308.00" x2="308.00" y1="237.30" y2="242.3" stroke="#000" stroke-width="0.65"/>
<line x1="315.68" x2="315.68" y1="240.60" y2="242.3" stroke="#000" stroke-width="0.65"/>
<line x1="320.17" x2="320.17" y1="240.60" y2="242.3" stroke="#000" stroke-width="0.65"/>
<line x1="323.35" x2="323.35" y1="240.60" y2="242.3" stroke="#000" stroke-width="0.65"/>
<line x1="325.82" x2="325.82" y1="239.10" y2="242.3" stroke="#000" stroke-width="0.65"/>
<line x1="327.84" x2="327.84" y1="240.60" y2="242.3" stroke="#000" stroke-width="0.65"/>
<line x1="329.55" x2="329.55" y1="240.60" y2="242.3" stroke="#000" stroke-width="0.65"/>
<line x1="331.03" x2="331.03" y1="240.60" y2="242.3" stroke="#000" stroke-width="0.65"/>
<line x1="332.33" x2="332.33" y1="240.60" y2="242.3" stroke="#000" stroke-width="0.65"/>
<line x1="333.50" x2="333.50" y1="237.30" y2="242.3" stroke="#000" stroke-width="0.65"/>
<line x1="341.18" x2="341.18" y1="240.60" y2="242.3" stroke="#000" stroke-width="0.65"/>
<line x1="345.67" x2="345.67" y1="240.60" y2="242.3" stroke="#000" stroke-width="0.65"/>
<line x1="348.85" x2="348.85" y1="240.60" y2="242.3" stroke="#000" stroke-width="0.65"/>
<line x1="351.32" x2="351.32" y1="239.10" y2="242.3" stroke="#000" stroke-width="0.65"/>
<line x1="353.34" x2="353.34" y1="240.60" y2="242.3" stroke="#000" stroke-width="0.65"/>
<line x1="355.05" x2="355.05" y1="240.60" y2="242.3" stroke="#000" stroke-width="0.65"/>
<line x1="356.53" x2="356.53" y1="240.60" y2="242.3" stroke="#000" stroke-width="0.65"/>
<line x1="357.83" x2="357.83" y1="240.60" y2="242.3" stroke="#000" stroke-width="0.65"/>
<line x1="359.00" x2="359.00" y1="237.30" y2="242.3" stroke="#000" stroke-width="0.65"/>
<line x1="366.68" x2="366.68" y1="240.60" y2="242.3" stroke="#000" stroke-width="0.65"/>
<line x1="371.17" x2="371.17" y1="240.60" y2="242.3" stroke="#000" stroke-width="0.65"/>
<line x1="374.35" x2="374.35" y1="240.60" y2="242.3" stroke="#000" stroke-width="0.65"/>
<line x1="376.82" x2="376.82" y1="239.10" y2="242.3" stroke="#000" stroke-width="0.65"/>
<line x1="378.84" x2="378.84" y1="240.60" y2="242.3" stroke="#000" stroke-width="0.65"/>
<line x1="380.55" x2="380.55" y1="240.60" y2="242.3" stroke="#000" stroke-width="0.65"/>
<line x1="382.03" x2="382.03" y1="240.60" y2="242.3" stroke="#000" stroke-width="0.65"/>
<line x1="383.33" x2="383.33" y1="240.60" y2="242.3" stroke="#000" stroke-width="0.65"/>
<line x1="384.50" x2="384.50" y1="237.30" y2="242.3" stroke="#000" stroke-width="0.65"/>
<line x1="392.18" x2="392.18" y1="240.60" y2="242.3" stroke="#000" stroke-width="0.65"/>
<line x1="396.67" x2="396.67" y1="240.60" y2="242.3" stroke="#000" stroke-width="0.65"/>
<line x1="399.85" x2="399.85" y1="240.60" y2="242.3" stroke="#000" stroke-width="0.65"/>
<line x1="402.32" x2="402.32" y1="239.10" y2="242.3" stroke="#000" stroke-width="0.65"/>
<line x1="404.34" x2="404.34" y1="240.60" y2="242.3" stroke="#000" stroke-width="0.65"/>
<line x1="406.05" x2="406.05" y1="240.60" y2="242.3" stroke="#000" stroke-width="0.65"/>
<line x1="407.53" x2="407.53" y1="240.60" y2="242.3" stroke="#000" stroke-width="0.65"/>
<line x1="408.83" x2="408.83" y1="240.60" y2="242.3" stroke="#000" stroke-width="0.65"/>
<line x1="410.00" x2="410.00" y1="237.30" y2="242.3" stroke="#000" stroke-width="0.65"/>
<line x1="417.68" x2="417.68" y1="240.60" y2="242.3" stroke="#000" stroke-width="0.65"/>
<line x1="422.17" x2="422.17" y1="240.60" y2="242.3" stroke="#000" stroke-width="0.65"/>
<line x1="425.35" x2="425.35" y1="240.60" y2="242.3" stroke="#000" stroke-width="0.65"/>
<line x1="427.82" x2="427.82" y1="239.10" y2="242.3" stroke="#000" stroke-width="0.65"/>
<line x1="429.84" x2="429.84" y1="240.60" y2="242.3" stroke="#000" stroke-width="0.65"/>
<line x1="431.55" x2="431.55" y1="240.60" y2="242.3" stroke="#000" stroke-width="0.65"/>
<line x1="433.03" x2="433.03" y1="240.60" y2="242.3" stroke="#000" stroke-width="0.65"/>
<line x1="434.33" x2="434.33" y1="240.60" y2="242.3" stroke="#000" stroke-width="0.65"/>
<line x1="435.50" x2="435.50" y1="237.30" y2="242.3" stroke="#000" stroke-width="0.65"/>
<line x1="443.18" x2="443.18" y1="240.60" y2="242.3" stroke="#000" stroke-width="0.65"/>
<line x1="246.4" x2="246.4" y1="0.5" y2="242.3" stroke="#b0b0b0" stroke-width="1"/>
<line x1="446.8" x2="446.8" y1="0.5" y2="242.3" stroke="#a6a6a6" stroke-width="1"/>
<line x1="245.9" x2="447.3" y1="0.5" y2="0.5" stroke="#bababa" stroke-width="1"/>
<line x1="245.9" x2="447.3" y1="242.3" y2="242.3" stroke="#262626" stroke-width="0.8"/>
<line x1="244.40" x2="246.4" y1="237.35" y2="237.35" stroke="#333" stroke-width="0.85"/>
<text x="243.00" y="240.00" text-anchor="end" font-size="5.9" fill="#4a4a4a" stroke="#4a4a4a" stroke-width="0.1">1</text>
<line x1="244.40" x2="246.4" y1="227.70" y2="227.70" stroke="#333" stroke-width="0.85"/>
<text x="243.00" y="230.35" text-anchor="end" font-size="5.9" fill="#4a4a4a" stroke="#4a4a4a" stroke-width="0.1">2</text>
<line x1="244.40" x2="246.4" y1="218.05" y2="218.05" stroke="#333" stroke-width="0.85"/>
<text x="243.00" y="220.70" text-anchor="end" font-size="5.9" fill="#4a4a4a" stroke="#4a4a4a" stroke-width="0.1">3</text>
<line x1="244.40" x2="246.4" y1="208.39" y2="208.39" stroke="#333" stroke-width="0.85"/>
<text x="243.00" y="211.04" text-anchor="end" font-size="5.9" fill="#4a4a4a" stroke="#4a4a4a" stroke-width="0.1">4</text>
<line x1="244.40" x2="246.4" y1="198.74" y2="198.74" stroke="#333" stroke-width="0.85"/>
<text x="243.00" y="201.39" text-anchor="end" font-size="5.9" fill="#4a4a4a" stroke="#4a4a4a" stroke-width="0.1">5</text>
<line x1="244.40" x2="246.4" y1="189.09" y2="189.09" stroke="#333" stroke-width="0.85"/>
<text x="243.00" y="191.74" text-anchor="end" font-size="5.9" fill="#4a4a4a" stroke="#4a4a4a" stroke-width="0.1">6</text>
<line x1="244.40" x2="246.4" y1="179.44" y2="179.44" stroke="#333" stroke-width="0.85"/>
<text x="243.00" y="182.09" text-anchor="end" font-size="5.9" fill="#4a4a4a" stroke="#4a4a4a" stroke-width="0.1">7</text>
<line x1="244.40" x2="246.4" y1="169.79" y2="169.79" stroke="#333" stroke-width="0.85"/>
<text x="243.00" y="172.44" text-anchor="end" font-size="5.9" fill="#4a4a4a" stroke="#4a4a4a" stroke-width="0.1">8</text>
<line x1="244.40" x2="246.4" y1="160.13" y2="160.13" stroke="#333" stroke-width="0.85"/>
<text x="243.00" y="162.78" text-anchor="end" font-size="5.9" fill="#4a4a4a" stroke="#4a4a4a" stroke-width="0.1">9</text>
<line x1="244.40" x2="246.4" y1="150.48" y2="150.48" stroke="#333" stroke-width="0.85"/>
<text x="243.00" y="153.13" text-anchor="end" font-size="5.9" fill="#4a4a4a" stroke="#4a4a4a" stroke-width="0.1">10</text>
<line x1="244.40" x2="246.4" y1="140.83" y2="140.83" stroke="#333" stroke-width="0.85"/>
<text x="243.00" y="143.48" text-anchor="end" font-size="5.9" fill="#4a4a4a" stroke="#4a4a4a" stroke-width="0.1">11</text>
<line x1="244.40" x2="246.4" y1="131.18" y2="131.18" stroke="#333" stroke-width="0.85"/>
<text x="243.00" y="133.83" text-anchor="end" font-size="5.9" fill="#4a4a4a" stroke="#4a4a4a" stroke-width="0.1">12</text>
<line x1="244.40" x2="246.4" y1="121.53" y2="121.53" stroke="#333" stroke-width="0.85"/>
<text x="243.00" y="124.18" text-anchor="end" font-size="5.9" fill="#4a4a4a" stroke="#4a4a4a" stroke-width="0.1">13</text>
<line x1="244.40" x2="246.4" y1="111.87" y2="111.87" stroke="#333" stroke-width="0.85"/>
<text x="243.00" y="114.52" text-anchor="end" font-size="5.9" fill="#4a4a4a" stroke="#4a4a4a" stroke-width="0.1">14</text>
<line x1="244.40" x2="246.4" y1="102.22" y2="102.22" stroke="#333" stroke-width="0.85"/>
<text x="243.00" y="104.87" text-anchor="end" font-size="5.9" fill="#4a4a4a" stroke="#4a4a4a" stroke-width="0.1">15</text>
<line x1="244.40" x2="246.4" y1="92.57" y2="92.57" stroke="#333" stroke-width="0.85"/>
<text x="243.00" y="95.22" text-anchor="end" font-size="5.9" fill="#4a4a4a" stroke="#4a4a4a" stroke-width="0.1">16</text>
<line x1="244.40" x2="246.4" y1="82.92" y2="82.92" stroke="#333" stroke-width="0.85"/>
<text x="243.00" y="85.57" text-anchor="end" font-size="5.9" fill="#4a4a4a" stroke="#4a4a4a" stroke-width="0.1">17</text>
<line x1="244.40" x2="246.4" y1="73.27" y2="73.27" stroke="#333" stroke-width="0.85"/>
<text x="243.00" y="75.92" text-anchor="end" font-size="5.9" fill="#4a4a4a" stroke="#4a4a4a" stroke-width="0.1">18</text>
<line x1="244.40" x2="246.4" y1="63.61" y2="63.61" stroke="#333" stroke-width="0.85"/>
<text x="243.00" y="66.26" text-anchor="end" font-size="5.9" fill="#4a4a4a" stroke="#4a4a4a" stroke-width="0.1">19</text>
<line x1="244.40" x2="246.4" y1="53.96" y2="53.96" stroke="#333" stroke-width="0.85"/>
<text x="243.00" y="56.61" text-anchor="end" font-size="5.9" fill="#4a4a4a" stroke="#4a4a4a" stroke-width="0.1">20</text>
<line x1="244.40" x2="246.4" y1="44.31" y2="44.31" stroke="#333" stroke-width="0.85"/>
<text x="243.00" y="46.96" text-anchor="end" font-size="5.9" fill="#4a4a4a" stroke="#4a4a4a" stroke-width="0.1">21</text>
<line x1="244.40" x2="246.4" y1="34.66" y2="34.66" stroke="#333" stroke-width="0.85"/>
<text x="243.00" y="37.31" text-anchor="end" font-size="5.9" fill="#4a4a4a" stroke="#4a4a4a" stroke-width="0.1">22</text>
<line x1="244.40" x2="246.4" y1="25.01" y2="25.01" stroke="#333" stroke-width="0.85"/>
<text x="243.00" y="27.66" text-anchor="end" font-size="5.9" fill="#4a4a4a" stroke="#4a4a4a" stroke-width="0.1">23</text>
<line x1="244.40" x2="246.4" y1="15.35" y2="15.35" stroke="#333" stroke-width="0.85"/>
<text x="243.00" y="18.00" text-anchor="end" font-size="5.9" fill="#4a4a4a" stroke="#4a4a4a" stroke-width="0.1">24</text>
<line x1="244.40" x2="246.4" y1="5.70" y2="5.70" stroke="#333" stroke-width="0.85"/>
<text x="243.00" y="8.35" text-anchor="end" font-size="5.9" fill="#4a4a4a" stroke="#4a4a4a" stroke-width="0.1">25</text>
<line x1="282.50" x2="282.50" y1="242.3" y2="244.60000000000002" stroke="#333" stroke-width="0.7"/>
<text x="282.90" y="250.6" text-anchor="middle" font-size="5.9" fill="#4a4a4a" stroke="#4a4a4a" stroke-width="0.1">0.1</text>
<line x1="333.50" x2="333.50" y1="242.3" y2="244.60000000000002" stroke="#333" stroke-width="0.7"/>
<text x="333.90" y="250.6" text-anchor="middle" font-size="5.9" fill="#4a4a4a" stroke="#4a4a4a" stroke-width="0.1">10</text>
<line x1="384.50" x2="384.50" y1="242.3" y2="244.60000000000002" stroke="#333" stroke-width="0.7"/>
<text x="384.90" y="250.6" text-anchor="middle" font-size="5.9" fill="#4a4a4a" stroke="#4a4a4a" stroke-width="0.1">1000</text>
<line x1="435.50" x2="435.50" y1="242.3" y2="244.60000000000002" stroke="#333" stroke-width="0.7"/>
<text x="435.90" y="250.6" text-anchor="middle" font-size="5.9" fill="#4a4a4a" stroke="#4a4a4a" stroke-width="0.1">100000</text>
<text x="346.60" y="259.2" text-anchor="middle" font-size="7.3" fill="#000">Cmax (ng/mL)</text>
<text x="234.00" y="121.30" transform="rotate(-90 234.00 121.30)" text-anchor="middle" font-size="8.1" fill="#000">IB</text>
<text x="227.3" y="6.75" font-size="8.8" font-weight="bold" fill="#000">B</text>
<clipPath id="clipC"><rect x="473.3" y="0.0" width="187.40000000000003" height="242.3"/></clipPath>
<line x1="473.3" x2="660.7" y1="232.52" y2="232.52" stroke="#ececec" stroke-width="0.6"/>
<line x1="473.3" x2="660.7" y1="222.87" y2="222.87" stroke="#ececec" stroke-width="0.6"/>
<line x1="473.3" x2="660.7" y1="213.22" y2="213.22" stroke="#ececec" stroke-width="0.6"/>
<line x1="473.3" x2="660.7" y1="203.57" y2="203.57" stroke="#ececec" stroke-width="0.6"/>
<line x1="473.3" x2="660.7" y1="193.92" y2="193.92" stroke="#ececec" stroke-width="0.6"/>
<line x1="473.3" x2="660.7" y1="184.26" y2="184.26" stroke="#ececec" stroke-width="0.6"/>
<line x1="473.3" x2="660.7" y1="174.61" y2="174.61" stroke="#ececec" stroke-width="0.6"/>
<line x1="473.3" x2="660.7" y1="164.96" y2="164.96" stroke="#ececec" stroke-width="0.6"/>
<line x1="473.3" x2="660.7" y1="155.31" y2="155.31" stroke="#ececec" stroke-width="0.6"/>
<line x1="473.3" x2="660.7" y1="145.66" y2="145.66" stroke="#ececec" stroke-width="0.6"/>
<line x1="473.3" x2="660.7" y1="136.00" y2="136.00" stroke="#ececec" stroke-width="0.6"/>
<line x1="473.3" x2="660.7" y1="126.35" y2="126.35" stroke="#ececec" stroke-width="0.6"/>
<line x1="473.3" x2="660.7" y1="116.70" y2="116.70" stroke="#ececec" stroke-width="0.6"/>
<line x1="473.3" x2="660.7" y1="107.05" y2="107.05" stroke="#ececec" stroke-width="0.6"/>
<line x1="473.3" x2="660.7" y1="97.40" y2="97.40" stroke="#ececec" stroke-width="0.6"/>
<line x1="473.3" x2="660.7" y1="87.74" y2="87.74" stroke="#ececec" stroke-width="0.6"/>
<line x1="473.3" x2="660.7" y1="78.09" y2="78.09" stroke="#ececec" stroke-width="0.6"/>
<line x1="473.3" x2="660.7" y1="68.44" y2="68.44" stroke="#ececec" stroke-width="0.6"/>
<line x1="473.3" x2="660.7" y1="58.79" y2="58.79" stroke="#ececec" stroke-width="0.6"/>
<line x1="473.3" x2="660.7" y1="49.14" y2="49.14" stroke="#ececec" stroke-width="0.6"/>
<line x1="473.3" x2="660.7" y1="39.48" y2="39.48" stroke="#ececec" stroke-width="0.6"/>
<line x1="473.3" x2="660.7" y1="29.83" y2="29.83" stroke="#ececec" stroke-width="0.6"/>
<line x1="473.3" x2="660.7" y1="20.18" y2="20.18" stroke="#ececec" stroke-width="0.6"/>
<line x1="473.3" x2="660.7" y1="10.53" y2="10.53" stroke="#ececec" stroke-width="0.6"/>
<line x1="527.02" x2="527.02" y1="0.5" y2="242.3" stroke="#ededed" stroke-width="0.55"/>
<line x1="580.46" x2="580.46" y1="0.5" y2="242.3" stroke="#ededed" stroke-width="0.55"/>
<line x1="633.90" x2="633.90" y1="0.5" y2="242.3" stroke="#ededed" stroke-width="0.55"/>
<g clip-path="url(#clipC)">
<line x1="524.30" x2="607.7" y1="3.95" y2="3.95" stroke="#bcbcbc" stroke-width="1.35"/>
<line x1="560.60" x2="578.3" y1="7.55" y2="7.55" stroke="#167616" stroke-width="1.25"/>
<line x1="595.70" x2="642.4" y1="13.60" y2="13.60" stroke="#bcbcbc" stroke-width="1.35"/>
<line x1="592.30" x2="596.8" y1="17.20" y2="17.20" stroke="#10f810" stroke-width="1.25"/>
<line x1="596.80" x2="624.9" y1="17.20" y2="17.20" stroke="#167616" stroke-width="1.25"/>
<line x1="585.70" x2="614.2" y1="26.86" y2="26.86" stroke="#a6a6a6" stroke-width="1.25"/>
<line x1="620.90" x2="628.7" y1="36.51" y2="36.51" stroke="#a6a6a6" stroke-width="1.25"/>
<line x1="506.90" x2="593.1" y1="42.56" y2="42.56" stroke="#bcbcbc" stroke-width="1.35"/>
<line x1="532.00" x2="555.5" y1="46.16" y2="46.16" stroke="#167616" stroke-width="1.25"/>
<line x1="595.70" x2="646.6" y1="52.21" y2="52.21" stroke="#bcbcbc" stroke-width="1.35"/>
<line x1="556.70" x2="590.0" y1="55.81" y2="55.81" stroke="#10f810" stroke-width="1.25"/>
<line x1="613.90" x2="630.3" y1="61.86" y2="61.86" stroke="#bcbcbc" stroke-width="1.35"/>
<line x1="590.50" x2="613.9" y1="65.46" y2="65.46" stroke="#10f810" stroke-width="1.25"/>
<line x1="613.90" x2="616.0" y1="65.46" y2="65.46" stroke="#167616" stroke-width="1.25"/>
<line x1="565.80" x2="629.5" y1="71.52" y2="71.52" stroke="#bcbcbc" stroke-width="1.35"/>
<line x1="592.10" x2="616.8" y1="75.12" y2="75.12" stroke="#167616" stroke-width="1.25"/>
<line x1="589.50" x2="622.5" y1="81.17" y2="81.17" stroke="#bcbcbc" stroke-width="1.35"/>
<line x1="592.10" x2="614.7" y1="84.77" y2="84.77" stroke="#167616" stroke-width="1.25"/>
<line x1="566.10" x2="642.0" y1="90.82" y2="90.82" stroke="#bcbcbc" stroke-width="1.35"/>
<line x1="580.10" x2="595.2" y1="94.42" y2="94.42" stroke="#167616" stroke-width="1.25"/>
<line x1="500.40" x2="526.9" y1="100.47" y2="100.47" stroke="#bcbcbc" stroke-width="1.35"/>
<line x1="528.90" x2="605.6" y1="104.07" y2="104.07" stroke="#9a2020" stroke-width="1.25"/>
<line x1="577.50" x2="636.0" y1="110.12" y2="110.12" stroke="#bcbcbc" stroke-width="1.35"/>
<line x1="505.30" x2="577.5" y1="113.72" y2="113.72" stroke="#10f810" stroke-width="1.25"/>
<line x1="577.50" x2="600.4" y1="113.72" y2="113.72" stroke="#167616" stroke-width="1.25"/>
<line x1="481.70" x2="650.5" y1="119.78" y2="119.78" stroke="#bcbcbc" stroke-width="1.35"/>
<line x1="483.50" x2="564.5" y1="123.38" y2="123.38" stroke="#167616" stroke-width="1.25"/>
<line x1="494.40" x2="582.2" y1="129.43" y2="129.43" stroke="#bcbcbc" stroke-width="1.35"/>
<line x1="515.20" x2="531.5" y1="133.03" y2="133.03" stroke="#167616" stroke-width="1.25"/>
<line x1="602.50" x2="636.8" y1="139.08" y2="139.08" stroke="#bcbcbc" stroke-width="1.35"/>
<line x1="601.00" x2="602.5" y1="142.68" y2="142.68" stroke="#10f810" stroke-width="1.25"/>
<line x1="602.50" x2="618.5" y1="142.68" y2="142.68" stroke="#167616" stroke-width="1.25"/>
<line x1="512.10" x2="611.3" y1="148.73" y2="148.73" stroke="#bcbcbc" stroke-width="1.35"/>
<line x1="567.90" x2="574.4" y1="152.33" y2="152.33" stroke="#167616" stroke-width="1.25"/>
<line x1="569.70" x2="644.6" y1="158.38" y2="158.38" stroke="#bcbcbc" stroke-width="1.35"/>
<line x1="584.80" x2="600.4" y1="161.98" y2="161.98" stroke="#167616" stroke-width="1.25"/>
<line x1="474.90" x2="642.5" y1="168.04" y2="168.04" stroke="#bcbcbc" stroke-width="1.35"/>
<line x1="579.10" x2="592.6" y1="171.64" y2="171.64" stroke="#167616" stroke-width="1.25"/>
<line x1="576.20" x2="644.0" y1="177.69" y2="177.69" stroke="#bcbcbc" stroke-width="1.35"/>
<line x1="570.50" x2="575.7" y1="181.29" y2="181.29" stroke="#10f810" stroke-width="1.25"/>
<line x1="575.70" x2="589.2" y1="181.29" y2="181.29" stroke="#167616" stroke-width="1.25"/>
<line x1="542.40" x2="626.9" y1="187.34" y2="187.34" stroke="#bcbcbc" stroke-width="1.35"/>
<line x1="565.30" x2="573.1" y1="190.94" y2="190.94" stroke="#167616" stroke-width="1.25"/>
<line x1="562.40" x2="615.5" y1="196.99" y2="196.99" stroke="#bcbcbc" stroke-width="1.35"/>
<line x1="587.90" x2="598.6" y1="200.59" y2="200.59" stroke="#167616" stroke-width="1.25"/>
<line x1="529.00" x2="588.2" y1="206.64" y2="206.64" stroke="#bcbcbc" stroke-width="1.35"/>
<line x1="510.00" x2="517.3" y1="210.24" y2="210.24" stroke="#10f810" stroke-width="1.25"/>
<line x1="591.30" x2="651.8" y1="216.30" y2="216.30" stroke="#bcbcbc" stroke-width="1.35"/>
<line x1="568.40" x2="587.9" y1="219.90" y2="219.90" stroke="#10f810" stroke-width="1.25"/>
<line x1="515.70" x2="618.1" y1="225.95" y2="225.95" stroke="#bcbcbc" stroke-width="1.35"/>
<line x1="532.10" x2="543.2" y1="229.55" y2="229.55" stroke="#167616" stroke-width="1.25"/>
<line x1="576.60" x2="598.7" y1="235.60" y2="235.60" stroke="#bcbcbc" stroke-width="1.35"/>
<line x1="474.30" x2="576.6" y1="239.20" y2="239.20" stroke="#10f810" stroke-width="1.25"/>
<line x1="576.60" x2="592.6" y1="239.20" y2="239.20" stroke="#167616" stroke-width="1.25"/>
<polyline points="526.30,2.45 521.80,4.30 526.30,6.15" fill="none" stroke="#262626" stroke-width="1.0" stroke-linejoin="round" stroke-linecap="round"/>
<polyline points="597.70,12.10 593.20,13.95 597.70,15.80" fill="none" stroke="#262626" stroke-width="1.0" stroke-linejoin="round" stroke-linecap="round"/>
<polyline points="587.70,25.36 583.20,27.21 587.70,29.06" fill="none" stroke="#262626" stroke-width="1.0" stroke-linejoin="round" stroke-linecap="round"/>
<polyline points="534.00,44.66 529.50,46.51 534.00,48.36" fill="none" stroke="#262626" stroke-width="1.0" stroke-linejoin="round" stroke-linecap="round"/>
<polyline points="558.70,54.31 554.20,56.16 558.70,58.01" fill="none" stroke="#262626" stroke-width="1.0" stroke-linejoin="round" stroke-linecap="round"/>
<polyline points="592.50,63.96 588.00,65.81 592.50,67.66" fill="none" stroke="#262626" stroke-width="1.0" stroke-linejoin="round" stroke-linecap="round"/>
<polyline points="567.80,70.02 563.30,71.87 567.80,73.72" fill="none" stroke="#262626" stroke-width="1.0" stroke-linejoin="round" stroke-linecap="round"/>
<polyline points="582.10,92.92 577.60,94.77 582.10,96.62" fill="none" stroke="#262626" stroke-width="1.0" stroke-linejoin="round" stroke-linecap="round"/>
<polyline points="530.90,102.57 526.40,104.42 530.90,106.27" fill="none" stroke="#262626" stroke-width="1.0" stroke-linejoin="round" stroke-linecap="round"/>
<polyline points="507.30,112.22 502.80,114.07 507.30,115.92" fill="none" stroke="#262626" stroke-width="1.0" stroke-linejoin="round" stroke-linecap="round"/>
<polyline points="485.50,121.88 481.00,123.73 485.50,125.58" fill="none" stroke="#262626" stroke-width="1.0" stroke-linejoin="round" stroke-linecap="round"/>
<polyline points="476.90,166.54 472.40,168.39 476.90,170.24" fill="none" stroke="#262626" stroke-width="1.0" stroke-linejoin="round" stroke-linecap="round"/>
<polyline points="544.40,185.84 539.90,187.69 544.40,189.54" fill="none" stroke="#262626" stroke-width="1.0" stroke-linejoin="round" stroke-linecap="round"/>
<polyline points="564.40,195.49 559.90,197.34 564.40,199.19" fill="none" stroke="#262626" stroke-width="1.0" stroke-linejoin="round" stroke-linecap="round"/>
<polyline points="517.70,224.45 513.20,226.30 517.70,228.15" fill="none" stroke="#262626" stroke-width="1.0" stroke-linejoin="round" stroke-linecap="round"/>
<polyline points="476.30,237.70 471.80,239.55 476.30,241.40" fill="none" stroke="#262626" stroke-width="1.0" stroke-linejoin="round" stroke-linecap="round"/>
</g>
<line x1="481.62" x2="481.62" y1="240.60" y2="242.3" stroke="#000" stroke-width="0.65"/>
<line x1="486.33" x2="486.33" y1="240.60" y2="242.3" stroke="#000" stroke-width="0.65"/>
<line x1="489.67" x2="489.67" y1="240.60" y2="242.3" stroke="#000" stroke-width="0.65"/>
<line x1="492.26" x2="492.26" y1="239.10" y2="242.3" stroke="#000" stroke-width="0.65"/>
<line x1="494.37" x2="494.37" y1="240.60" y2="242.3" stroke="#000" stroke-width="0.65"/>
<line x1="496.16" x2="496.16" y1="240.60" y2="242.3" stroke="#000" stroke-width="0.65"/>
<line x1="497.71" x2="497.71" y1="240.60" y2="242.3" stroke="#000" stroke-width="0.65"/>
<line x1="499.08" x2="499.08" y1="240.60" y2="242.3" stroke="#000" stroke-width="0.65"/>
<line x1="500.30" x2="500.30" y1="237.30" y2="242.3" stroke="#000" stroke-width="0.65"/>
<line x1="508.34" x2="508.34" y1="240.60" y2="242.3" stroke="#000" stroke-width="0.65"/>
<line x1="513.05" x2="513.05" y1="240.60" y2="242.3" stroke="#000" stroke-width="0.65"/>
<line x1="516.39" x2="516.39" y1="240.60" y2="242.3" stroke="#000" stroke-width="0.65"/>
<line x1="518.98" x2="518.98" y1="239.10" y2="242.3" stroke="#000" stroke-width="0.65"/>
<line x1="521.09" x2="521.09" y1="240.60" y2="242.3" stroke="#000" stroke-width="0.65"/>
<line x1="522.88" x2="522.88" y1="240.60" y2="242.3" stroke="#000" stroke-width="0.65"/>
<line x1="524.43" x2="524.43" y1="240.60" y2="242.3" stroke="#000" stroke-width="0.65"/>
<line x1="525.80" x2="525.80" y1="240.60" y2="242.3" stroke="#000" stroke-width="0.65"/>
<line x1="527.02" x2="527.02" y1="237.30" y2="242.3" stroke="#000" stroke-width="0.65"/>
<line x1="535.06" x2="535.06" y1="240.60" y2="242.3" stroke="#000" stroke-width="0.65"/>
<line x1="539.77" x2="539.77" y1="240.60" y2="242.3" stroke="#000" stroke-width="0.65"/>
<line x1="543.11" x2="543.11" y1="240.60" y2="242.3" stroke="#000" stroke-width="0.65"/>
<line x1="545.70" x2="545.70" y1="239.10" y2="242.3" stroke="#000" stroke-width="0.65"/>
<line x1="547.81" x2="547.81" y1="240.60" y2="242.3" stroke="#000" stroke-width="0.65"/>
<line x1="549.60" x2="549.60" y1="240.60" y2="242.3" stroke="#000" stroke-width="0.65"/>
<line x1="551.15" x2="551.15" y1="240.60" y2="242.3" stroke="#000" stroke-width="0.65"/>
<line x1="552.52" x2="552.52" y1="240.60" y2="242.3" stroke="#000" stroke-width="0.65"/>
<line x1="553.74" x2="553.74" y1="237.30" y2="242.3" stroke="#000" stroke-width="0.65"/>
<line x1="561.78" x2="561.78" y1="240.60" y2="242.3" stroke="#000" stroke-width="0.65"/>
<line x1="566.49" x2="566.49" y1="240.60" y2="242.3" stroke="#000" stroke-width="0.65"/>
<line x1="569.83" x2="569.83" y1="240.60" y2="242.3" stroke="#000" stroke-width="0.65"/>
<line x1="572.42" x2="572.42" y1="239.10" y2="242.3" stroke="#000" stroke-width="0.65"/>
<line x1="574.53" x2="574.53" y1="240.60" y2="242.3" stroke="#000" stroke-width="0.65"/>
<line x1="576.32" x2="576.32" y1="240.60" y2="242.3" stroke="#000" stroke-width="0.65"/>
<line x1="577.87" x2="577.87" y1="240.60" y2="242.3" stroke="#000" stroke-width="0.65"/>
<line x1="579.24" x2="579.24" y1="240.60" y2="242.3" stroke="#000" stroke-width="0.65"/>
<line x1="580.46" x2="580.46" y1="237.30" y2="242.3" stroke="#000" stroke-width="0.65"/>
<line x1="588.50" x2="588.50" y1="240.60" y2="242.3" stroke="#000" stroke-width="0.65"/>
<line x1="593.21" x2="593.21" y1="240.60" y2="242.3" stroke="#000" stroke-width="0.65"/>
<line x1="596.55" x2="596.55" y1="240.60" y2="242.3" stroke="#000" stroke-width="0.65"/>
<line x1="599.14" x2="599.14" y1="239.10" y2="242.3" stroke="#000" stroke-width="0.65"/>
<line x1="601.25" x2="601.25" y1="240.60" y2="242.3" stroke="#000" stroke-width="0.65"/>
<line x1="603.04" x2="603.04" y1="240.60" y2="242.3" stroke="#000" stroke-width="0.65"/>
<line x1="604.59" x2="604.59" y1="240.60" y2="242.3" stroke="#000" stroke-width="0.65"/>
<line x1="605.96" x2="605.96" y1="240.60" y2="242.3" stroke="#000" stroke-width="0.65"/>
<line x1="607.18" x2="607.18" y1="237.30" y2="242.3" stroke="#000" stroke-width="0.65"/>
<line x1="615.22" x2="615.22" y1="240.60" y2="242.3" stroke="#000" stroke-width="0.65"/>
<line x1="619.93" x2="619.93" y1="240.60" y2="242.3" stroke="#000" stroke-width="0.65"/>
<line x1="623.27" x2="623.27" y1="240.60" y2="242.3" stroke="#000" stroke-width="0.65"/>
<line x1="625.86" x2="625.86" y1="239.10" y2="242.3" stroke="#000" stroke-width="0.65"/>
<line x1="627.97" x2="627.97" y1="240.60" y2="242.3" stroke="#000" stroke-width="0.65"/>
<line x1="629.76" x2="629.76" y1="240.60" y2="242.3" stroke="#000" stroke-width="0.65"/>
<line x1="631.31" x2="631.31" y1="240.60" y2="242.3" stroke="#000" stroke-width="0.65"/>
<line x1="632.68" x2="632.68" y1="240.60" y2="242.3" stroke="#000" stroke-width="0.65"/>
<line x1="633.90" x2="633.90" y1="237.30" y2="242.3" stroke="#000" stroke-width="0.65"/>
<line x1="641.94" x2="641.94" y1="240.60" y2="242.3" stroke="#000" stroke-width="0.65"/>
<line x1="646.65" x2="646.65" y1="240.60" y2="242.3" stroke="#000" stroke-width="0.65"/>
<line x1="649.99" x2="649.99" y1="240.60" y2="242.3" stroke="#000" stroke-width="0.65"/>
<line x1="652.58" x2="652.58" y1="239.10" y2="242.3" stroke="#000" stroke-width="0.65"/>
<line x1="654.69" x2="654.69" y1="240.60" y2="242.3" stroke="#000" stroke-width="0.65"/>
<line x1="656.48" x2="656.48" y1="240.60" y2="242.3" stroke="#000" stroke-width="0.65"/>
<line x1="658.03" x2="658.03" y1="240.60" y2="242.3" stroke="#000" stroke-width="0.65"/>
<line x1="659.40" x2="659.40" y1="240.60" y2="242.3" stroke="#000" stroke-width="0.65"/>
<line x1="473.3" x2="473.3" y1="0.5" y2="242.3" stroke="#b0b0b0" stroke-width="1"/>
<line x1="660.7" x2="660.7" y1="0.5" y2="242.3" stroke="#a6a6a6" stroke-width="1"/>
<line x1="472.8" x2="661.2" y1="0.5" y2="0.5" stroke="#bababa" stroke-width="1"/>
<line x1="472.8" x2="661.2" y1="242.3" y2="242.3" stroke="#262626" stroke-width="0.8"/>
<line x1="471.30" x2="473.3" y1="237.35" y2="237.35" stroke="#333" stroke-width="0.85"/>
<text x="469.90" y="240.00" text-anchor="end" font-size="5.9" fill="#4a4a4a" stroke="#4a4a4a" stroke-width="0.1">1</text>
<line x1="471.30" x2="473.3" y1="227.70" y2="227.70" stroke="#333" stroke-width="0.85"/>
<text x="469.90" y="230.35" text-anchor="end" font-size="5.9" fill="#4a4a4a" stroke="#4a4a4a" stroke-width="0.1">2</text>
<line x1="471.30" x2="473.3" y1="218.05" y2="218.05" stroke="#333" stroke-width="0.85"/>
<text x="469.90" y="220.70" text-anchor="end" font-size="5.9" fill="#4a4a4a" stroke="#4a4a4a" stroke-width="0.1">3</text>
<line x1="471.30" x2="473.3" y1="208.39" y2="208.39" stroke="#333" stroke-width="0.85"/>
<text x="469.90" y="211.04" text-anchor="end" font-size="5.9" fill="#4a4a4a" stroke="#4a4a4a" stroke-width="0.1">4</text>
<line x1="471.30" x2="473.3" y1="198.74" y2="198.74" stroke="#333" stroke-width="0.85"/>
<text x="469.90" y="201.39" text-anchor="end" font-size="5.9" fill="#4a4a4a" stroke="#4a4a4a" stroke-width="0.1">5</text>
<line x1="471.30" x2="473.3" y1="189.09" y2="189.09" stroke="#333" stroke-width="0.85"/>
<text x="469.90" y="191.74" text-anchor="end" font-size="5.9" fill="#4a4a4a" stroke="#4a4a4a" stroke-width="0.1">6</text>
<line x1="471.30" x2="473.3" y1="179.44" y2="179.44" stroke="#333" stroke-width="0.85"/>
<text x="469.90" y="182.09" text-anchor="end" font-size="5.9" fill="#4a4a4a" stroke="#4a4a4a" stroke-width="0.1">7</text>
<line x1="471.30" x2="473.3" y1="169.79" y2="169.79" stroke="#333" stroke-width="0.85"/>
<text x="469.90" y="172.44" text-anchor="end" font-size="5.9" fill="#4a4a4a" stroke="#4a4a4a" stroke-width="0.1">8</text>
<line x1="471.30" x2="473.3" y1="160.13" y2="160.13" stroke="#333" stroke-width="0.85"/>
<text x="469.90" y="162.78" text-anchor="end" font-size="5.9" fill="#4a4a4a" stroke="#4a4a4a" stroke-width="0.1">9</text>
<line x1="471.30" x2="473.3" y1="150.48" y2="150.48" stroke="#333" stroke-width="0.85"/>
<text x="469.90" y="153.13" text-anchor="end" font-size="5.9" fill="#4a4a4a" stroke="#4a4a4a" stroke-width="0.1">10</text>
<line x1="471.30" x2="473.3" y1="140.83" y2="140.83" stroke="#333" stroke-width="0.85"/>
<text x="469.90" y="143.48" text-anchor="end" font-size="5.9" fill="#4a4a4a" stroke="#4a4a4a" stroke-width="0.1">11</text>
<line x1="471.30" x2="473.3" y1="131.18" y2="131.18" stroke="#333" stroke-width="0.85"/>
<text x="469.90" y="133.83" text-anchor="end" font-size="5.9" fill="#4a4a4a" stroke="#4a4a4a" stroke-width="0.1">12</text>
<line x1="471.30" x2="473.3" y1="121.53" y2="121.53" stroke="#333" stroke-width="0.85"/>
<text x="469.90" y="124.18" text-anchor="end" font-size="5.9" fill="#4a4a4a" stroke="#4a4a4a" stroke-width="0.1">13</text>
<line x1="471.30" x2="473.3" y1="111.87" y2="111.87" stroke="#333" stroke-width="0.85"/>
<text x="469.90" y="114.52" text-anchor="end" font-size="5.9" fill="#4a4a4a" stroke="#4a4a4a" stroke-width="0.1">14</text>
<line x1="471.30" x2="473.3" y1="102.22" y2="102.22" stroke="#333" stroke-width="0.85"/>
<text x="469.90" y="104.87" text-anchor="end" font-size="5.9" fill="#4a4a4a" stroke="#4a4a4a" stroke-width="0.1">15</text>
<line x1="471.30" x2="473.3" y1="92.57" y2="92.57" stroke="#333" stroke-width="0.85"/>
<text x="469.90" y="95.22" text-anchor="end" font-size="5.9" fill="#4a4a4a" stroke="#4a4a4a" stroke-width="0.1">16</text>
<line x1="471.30" x2="473.3" y1="82.92" y2="82.92" stroke="#333" stroke-width="0.85"/>
<text x="469.90" y="85.57" text-anchor="end" font-size="5.9" fill="#4a4a4a" stroke="#4a4a4a" stroke-width="0.1">17</text>
<line x1="471.30" x2="473.3" y1="73.27" y2="73.27" stroke="#333" stroke-width="0.85"/>
<text x="469.90" y="75.92" text-anchor="end" font-size="5.9" fill="#4a4a4a" stroke="#4a4a4a" stroke-width="0.1">18</text>
<line x1="471.30" x2="473.3" y1="63.61" y2="63.61" stroke="#333" stroke-width="0.85"/>
<text x="469.90" y="66.26" text-anchor="end" font-size="5.9" fill="#4a4a4a" stroke="#4a4a4a" stroke-width="0.1">19</text>
<line x1="471.30" x2="473.3" y1="53.96" y2="53.96" stroke="#333" stroke-width="0.85"/>
<text x="469.90" y="56.61" text-anchor="end" font-size="5.9" fill="#4a4a4a" stroke="#4a4a4a" stroke-width="0.1">20</text>
<line x1="471.30" x2="473.3" y1="44.31" y2="44.31" stroke="#333" stroke-width="0.85"/>
<text x="469.90" y="46.96" text-anchor="end" font-size="5.9" fill="#4a4a4a" stroke="#4a4a4a" stroke-width="0.1">21</text>
<line x1="471.30" x2="473.3" y1="34.66" y2="34.66" stroke="#333" stroke-width="0.85"/>
<text x="469.90" y="37.31" text-anchor="end" font-size="5.9" fill="#4a4a4a" stroke="#4a4a4a" stroke-width="0.1">22</text>
<line x1="471.30" x2="473.3" y1="25.01" y2="25.01" stroke="#333" stroke-width="0.85"/>
<text x="469.90" y="27.66" text-anchor="end" font-size="5.9" fill="#4a4a4a" stroke="#4a4a4a" stroke-width="0.1">23</text>
<line x1="471.30" x2="473.3" y1="15.35" y2="15.35" stroke="#333" stroke-width="0.85"/>
<text x="469.90" y="18.00" text-anchor="end" font-size="5.9" fill="#4a4a4a" stroke="#4a4a4a" stroke-width="0.1">24</text>
<line x1="471.30" x2="473.3" y1="5.70" y2="5.70" stroke="#333" stroke-width="0.85"/>
<text x="469.90" y="8.35" text-anchor="end" font-size="5.9" fill="#4a4a4a" stroke="#4a4a4a" stroke-width="0.1">25</text>
<line x1="500.30" x2="500.30" y1="242.3" y2="244.60000000000002" stroke="#333" stroke-width="0.7"/>
<text x="500.70" y="250.6" text-anchor="middle" font-size="5.9" fill="#4a4a4a" stroke="#4a4a4a" stroke-width="0.1">1</text>
<line x1="553.74" x2="553.74" y1="242.3" y2="244.60000000000002" stroke="#333" stroke-width="0.7"/>
<text x="554.14" y="250.6" text-anchor="middle" font-size="5.9" fill="#4a4a4a" stroke="#4a4a4a" stroke-width="0.1">100</text>
<line x1="607.18" x2="607.18" y1="242.3" y2="244.60000000000002" stroke="#333" stroke-width="0.7"/>
<text x="607.58" y="250.6" text-anchor="middle" font-size="5.9" fill="#4a4a4a" stroke="#4a4a4a" stroke-width="0.1">10000</text>
<line x1="660.62" x2="660.62" y1="242.3" y2="244.60000000000002" stroke="#333" stroke-width="0.7"/>
<text x="661.02" y="250.6" text-anchor="middle" font-size="5.9" fill="#4a4a4a" stroke="#4a4a4a" stroke-width="0.1">1e+06</text>
<text x="567.00" y="259.2" text-anchor="middle" font-size="7.3" fill="#000">AUC (ng*h/mL)</text>
<text x="460.90" y="121.30" transform="rotate(-90 460.90 121.30)" text-anchor="middle" font-size="8.1" fill="#000">IB</text>
<text x="454.0" y="6.75" font-size="8.8" font-weight="bold" fill="#000">C</text>
<line x1="672.7" x2="681.9" y1="110.90" y2="110.90" stroke="#167616" stroke-width="1.6"/>
<text x="686.6" y="113.00" font-size="5.95" fill="#111" stroke="#111" stroke-width="0.07">Overlap Human and Animal data</text>
<line x1="672.7" x2="681.9" y1="121.63" y2="121.63" stroke="#10f810" stroke-width="1.6"/>
<text x="686.6" y="123.73" font-size="5.95" fill="#111" stroke="#111" stroke-width="0.07">Human Data Below Lower Limit Animal</text>
<line x1="672.7" x2="681.9" y1="132.36" y2="132.36" stroke="#9a2020" stroke-width="1.6"/>
<text x="686.6" y="134.46" font-size="5.95" fill="#111" stroke="#111" stroke-width="0.07">Human Data Above Upper Limit Animal</text>
<line x1="672.7" x2="681.9" y1="143.09" y2="143.09" stroke="#bcbcbc" stroke-width="1.6"/>
<text x="686.6" y="145.19" font-size="5.95" fill="#111" stroke="#111" stroke-width="0.07">Animal data - Lower and Upper Limit</text>
</svg>
</body></html>
